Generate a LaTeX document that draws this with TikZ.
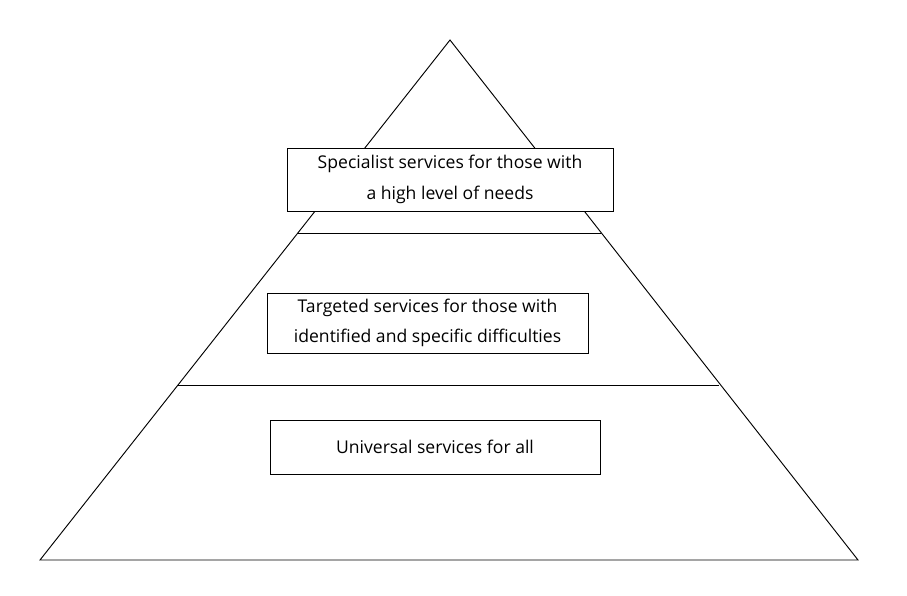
\documentclass[tikz,border=0pt]{standalone}
\usepackage{fontspec}
\setmainfont{Open Sans}
\usetikzlibrary{positioning}

\begin{document}
\begin{tikzpicture}[x=0.03cm, y=-0.03cm, line width=0.8pt,
        tier/.style={draw, fill=white, align=center, font=\fontsize{15}{26}\selectfont, inner sep=0pt}]
        \useasboundingbox (0,0) rectangle (907,596);
        \coordinate (apex) at (450,40);
        \coordinate (bl) at (40,560);
        \coordinate (br) at (858,560);
        \draw (apex) -- (bl) -- (br) -- cycle;
        \coordinate (t1l) at (298,233);
        \coordinate (t1r) at (601,233);
        \coordinate (t2l) at (178,385);
        \coordinate (t2r) at (719,385);
        \draw (t1l) -- (t1r);
        \draw (t2l) -- (t2r);
        \node[tier, minimum width=326*0.03cm, minimum height=63*0.03cm] (spec) at (450,179.5)
            {Specialist services for those with\\a high level of needs};
        \node[tier, minimum width=321*0.03cm, minimum height=60*0.03cm] (targ) at (427.5,323)
            {Targeted services for those with\\identified and specific difficulties};
        \node[tier, minimum width=330*0.03cm, minimum height=54*0.03cm] (univ) at (435,447)
            {Universal services for all};
\end{tikzpicture}
\end{document}
